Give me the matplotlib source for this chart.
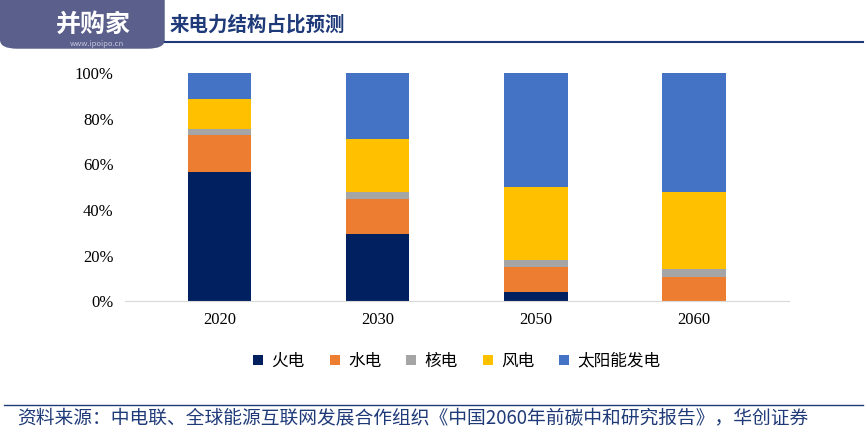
import matplotlib.pyplot as plt
from matplotlib.patches import FancyBboxPatch
import numpy as np

plt.rcParams['font.family'] = ['Noto Sans CJK SC', 'DejaVu Sans']

years = ['2020', '2030', '2050', '2060']
series = ['火电', '水电', '核电', '风电', '太阳能发电']
coal = [56.5, 29.5, 4.0, 0.0]
hydro = [16.5, 15.5, 11.0, 10.5]
nuclear = [2.5, 3.0, 3.0, 3.5]
wind = [13.0, 23.0, 32.0, 34.0]
solar = [11.5, 29.0, 50.0, 52.0]
colors = ['#002060', '#ED7D31', '#A5A5A5', '#FFC000', '#4472C4']

fig = plt.figure(figsize=(8.67, 4.43), dpi=100)
ax = fig.add_axes([0.144, 0.32, 0.766, 0.515])
x = np.arange(len(years))
bottom = np.zeros(len(years))
for name, vals, c in zip(series, [coal, hydro, nuclear, wind, solar], colors):
    ax.bar(x, vals, 0.4, bottom=bottom, color=c, label=name)
    bottom += np.array(vals)

ax.set_ylim(0, 100)
ax.set_xlim(-0.6, 3.6)
ax.set_yticks(range(0, 101, 20))
ax.set_yticklabels([f'{v}%' for v in range(0, 101, 20)], family='Liberation Serif', fontsize=12)
ax.set_xticks(x)
ax.set_xticklabels(years, family='Liberation Serif', fontsize=12)
for s in ['top', 'right', 'left']:
    ax.spines[s].set_visible(False)
ax.spines['bottom'].set_color('#D9D9D9')
ax.tick_params(length=0, pad=8)
ax.legend(loc='upper center', bbox_to_anchor=(0.5, -0.16), ncol=5, frameon=False,
          fontsize=12, handlelength=0.6, handleheight=0.6, columnspacing=1.5, handletextpad=0.5)

# header
fig.patches.append(FancyBboxPatch((0.0, 0.89), 0.19, 0.13, boxstyle='round,pad=0,rounding_size=0.02',
                                  transform=fig.transFigure, facecolor='#5A5F8C', edgecolor='none'))
fig.text(0.065, 0.945, '并购家', fontsize=18, color='white', weight='bold', va='center')
fig.text(0.08, 0.9, 'www.ipoipo.cn', fontsize=5.5, color='#C8C8E0', va='center')
fig.text(0.195, 0.945, '来电力结构占比预测', fontsize=14, color='#1F3A78', weight='bold', va='center')
fig.add_artist(plt.Line2D([0.19, 0.995], [0.905, 0.905], color='#1F3A78', lw=1.5))
fig.add_artist(plt.Line2D([0.005, 0.995], [0.085, 0.085], color='#1F3A78', lw=1))
fig.text(0.02, 0.055, '资料来源：中电联、全球能源互联网发展合作组织《中国2060年前碳中和研究报告》，华创证券',
         fontsize=13.5, color='#1F3A78', style='italic', va='center')

fig.savefig('out.png')
